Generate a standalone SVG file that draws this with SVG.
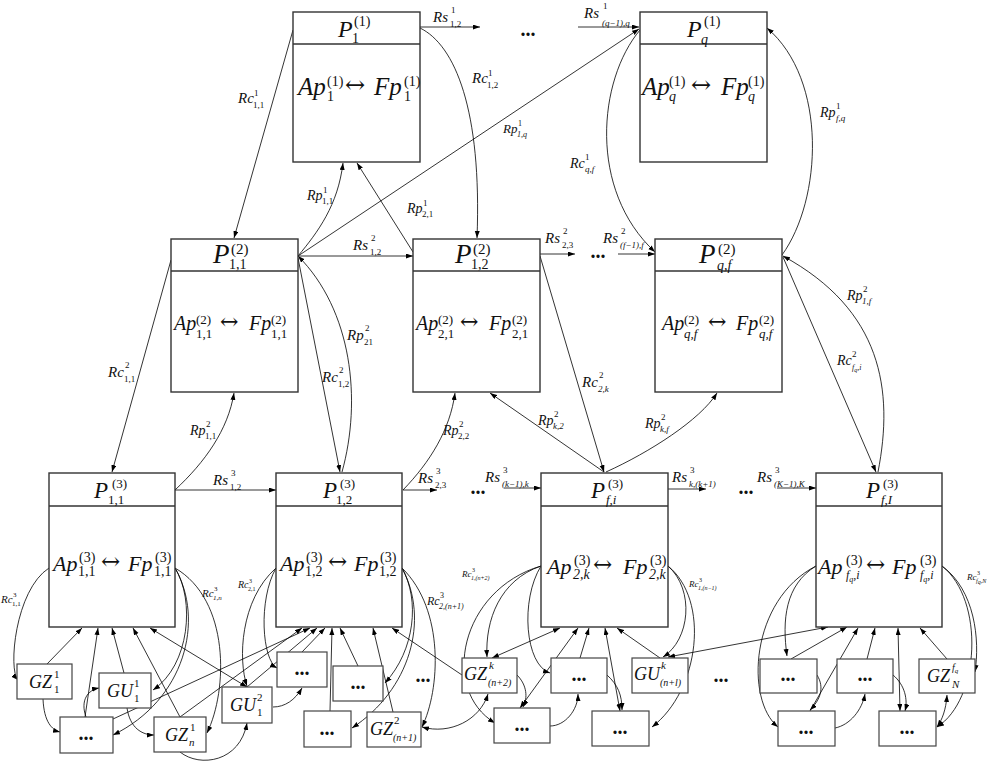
<svg xmlns="http://www.w3.org/2000/svg" width="993" height="763" viewBox="0 0 993 763">
<defs>
<marker id="ah" markerUnits="userSpaceOnUse" markerWidth="8" markerHeight="6" refX="7" refY="2.5" orient="auto-start-reverse"><path d="M0,0 L7,2.5 L0,5 z" fill="#000"/></marker>
<style>
.box{fill:#fff;stroke:#333;stroke-width:1.4}
.sb{fill:#fff;stroke:#444;stroke-width:1.2}
.dv{stroke:#333;stroke-width:1.4}
.c{fill:none;stroke:#000;stroke-width:0.8;marker-end:url(#ah)}
.b{marker-start:url(#ah)}
.i{font-family:"Liberation Serif","Times New Roman",serif;font-style:italic;fill:#111}
.u{font-style:normal}
.d{font-family:"Liberation Serif",serif;font-weight:bold;fill:#111;text-anchor:middle}
.ar{font-family:"DejaVu Serif","Liberation Serif",serif;font-style:normal}
</style>
</defs>
<rect width="993" height="763" fill="#fff"/>

<g id="connectors">
<path class="c" d="M420,27 L480,27"/>
<path class="c" d="M578,27 L639,27"/>
<path class="c" d="M293,30 L234,238"/>
<path class="c" d="M420,28 C455,45 482,110 477,238"/>
<path class="c" d="M298,256 C318,232 338,205 343,163"/>
<path class="c" d="M298,256 L639,29"/>
<path class="c" d="M413,252 L357,163"/>
<path class="c" d="M640,30 C598,80 588,190 655,252"/>
<path class="c" d="M782,255 C822,200 828,80 767,28"/>
<path class="c" d="M298,256 L413,256"/>
<path class="c" d="M540,254 L575,254"/>
<path class="c" d="M618,254 L655,254"/>
<path class="c" d="M171,260 L112,472"/>
<path class="c" d="M298,258 L340,472"/>
<path class="c" d="M342,472 C362,400 352,310 298,256"/>
<path class="c" d="M175,490 C205,462 228,430 234,393"/>
<path class="c" d="M403,490 C430,462 450,430 455,393"/>
<path class="c" d="M540,256 L604,472"/>
<path class="c" d="M604,472 L490,393"/>
<path class="c" d="M606,472 C650,452 700,420 717,393"/>
<path class="c" d="M878,472 C894,390 882,310 783,256"/>
<path class="c" d="M783,257 L876,472"/>
<path class="c" d="M175,490 L276,490"/>
<path class="c" d="M403,490 L437,490"/>
<path class="c" d="M504,488 L541,488"/>
<path class="c" d="M668,489 L706,489"/>
<path class="c" d="M777,488 L816,488"/>
<path class="c" d="M49,568 C15,590 8,670 18,680"/>
<path class="c" d="M47,664 L82,628"/>
<path class="c" d="M43,699 C44,722 52,730 60,732"/>
<path class="c" d="M85,717 L98,628"/>
<path class="c" d="M86,717 C80,700 88,690 99,688"/>
<path class="c" d="M124,673 L112,628"/>
<path class="c" d="M127,708 C130,728 142,735 154,735"/>
<path class="c" d="M180,717 L133,628"/>
<path class="c b" d="M150,628 L247,687"/>
<path class="c" d="M175,568 C195,600 190,665 153,690"/>
<path class="c" d="M175,568 C205,620 185,700 113,735"/>
<path class="c" d="M175,568 C230,600 228,690 207,733"/>
<path class="c" d="M180,752 C200,768 240,762 247,723"/>
<path class="c" d="M180,717 L302,628"/>
<path class="c" d="M113,719 L310,628"/>
<path class="c" d="M247,687 L317,628"/>
<path class="c" d="M276,568 C240,600 238,660 247,686"/>
<path class="c" d="M276,568 C258,600 262,660 277,668"/>
<path class="c" d="M273,707 C285,707 295,700 302,688"/>
<path class="c" d="M302,652 L325,628"/>
<path class="c" d="M330,711 L332,628"/>
<path class="c" d="M358,666 L340,628"/>
<path class="c" d="M393,712 L373,628"/>
<path class="c" d="M462,675 L392,628"/>
<path class="c" d="M402,568 C420,600 415,650 385,683"/>
<path class="c" d="M402,568 C430,620 410,690 352,728"/>
<path class="c" d="M402,568 C445,610 440,690 422,727"/>
<path class="c b" d="M422,727 C450,735 480,720 488,694"/>
<path class="c" d="M541,566 C460,590 440,690 495,723"/>
<path class="c" d="M541,566 C500,580 485,620 487,657"/>
<path class="c" d="M541,566 C520,600 525,665 550,673"/>
<path class="c b" d="M492,658 L560,628"/>
<path class="c" d="M517,675 C527,685 528,698 523,707"/>
<path class="c b" d="M520,708 L578,628"/>
<path class="c" d="M550,726 C565,726 578,710 578,694"/>
<path class="c" d="M580,658 L589,628"/>
<path class="c b" d="M620,711 L605,628"/>
<path class="c" d="M607,675 C618,685 622,695 622,710"/>
<path class="c" d="M660,658 L617,628"/>
<path class="c" d="M668,566 C695,590 690,640 663,657"/>
<path class="c" d="M668,566 C710,600 700,690 652,727"/>
<path class="c b" d="M668,657 L828,627"/>
<path class="c" d="M816,566 C785,585 782,620 787,656"/>
<path class="c" d="M816,566 C750,600 745,700 778,727"/>
<path class="c" d="M791,659 L847,627"/>
<path class="c" d="M817,675 C825,688 820,700 810,710"/>
<path class="c" d="M810,711 L858,628"/>
<path class="c" d="M835,728 C850,725 862,710 865,694"/>
<path class="c" d="M867,659 L875,628"/>
<path class="c" d="M893,675 C905,685 908,700 905,711"/>
<path class="c b" d="M900,711 L898,628"/>
<path class="c" d="M947,659 L920,628"/>
<path class="c" d="M942,566 C975,590 980,640 975,672"/>
<path class="c" d="M942,566 C985,600 980,700 937,727"/>
<path class="c b" d="M947,695 C946,710 942,720 937,727"/>
</g>

<g id="labels">
<text class="i" font-size="15" x="433" y="22">Rs<tspan class="u" font-size="9" x="451" y="13">1</tspan><tspan class="u" font-size="9" x="450" y="27">1,2</tspan></text>
<text class="i" font-size="15" x="584" y="18">Rs<tspan class="u" font-size="9" x="603" y="9">1</tspan><tspan font-size="9" x="602" y="26">(q−1),q</tspan></text>
<text class="i" font-size="15" x="238" y="103">Rc<tspan class="u" font-size="9" x="254" y="96">1</tspan><tspan class="u" font-size="9" x="253" y="108">1,1</tspan></text>
<text class="i" font-size="15" x="472" y="83">Rc<tspan class="u" font-size="9" x="488" y="76">1</tspan><tspan class="u" font-size="9" x="487" y="88">1,2</tspan></text>
<text class="i" font-size="13" x="503" y="133">Rp<tspan class="u" font-size="8" x="518" y="126">1</tspan><tspan font-size="8" x="517" y="137">1,q</tspan></text>
<text class="i" font-size="14" x="307" y="200">Rp<tspan class="u" font-size="9" x="323" y="193">1</tspan><tspan class="u" font-size="9" x="322" y="204">1,1</tspan></text>
<text class="i" font-size="14" x="407" y="213">Rp<tspan class="u" font-size="9" x="423" y="206">1</tspan><tspan class="u" font-size="9" x="422" y="217">2,1</tspan></text>
<text class="i" font-size="14" x="570" y="168">Rc<tspan class="u" font-size="9" x="585" y="160">1</tspan><tspan font-size="9" x="585" y="172">q,f</tspan></text>
<text class="i" font-size="14" x="820" y="117">Rp<tspan class="u" font-size="9" x="836" y="109">1</tspan><tspan font-size="9" x="836" y="121">f,q</tspan></text>

<text class="i" font-size="15" x="353" y="250">Rs<tspan class="u" font-size="9" x="371" y="241">2</tspan><tspan class="u" font-size="9" x="370" y="255">1,2</tspan></text>
<text class="i" font-size="15" x="347" y="340">Rp<tspan class="u" font-size="9" x="365" y="331">2</tspan><tspan class="u" font-size="9" x="364" y="345">21</tspan></text>
<text class="i" font-size="15" x="322" y="382">Rc<tspan class="u" font-size="9" x="339" y="373">2</tspan><tspan class="u" font-size="9" x="338" y="387">1,2</tspan></text>
<text class="i" font-size="15" x="108" y="377">Rc<tspan class="u" font-size="9" x="125" y="368">2</tspan><tspan class="u" font-size="9" x="124" y="382">1,1</tspan></text>
<text class="i" font-size="14" x="190" y="435">Rp<tspan class="u" font-size="9" x="206" y="427">2</tspan><tspan class="u" font-size="9" x="205" y="439">1,1</tspan></text>
<text class="i" font-size="14" x="443" y="435">Rp<tspan class="u" font-size="9" x="459" y="427">2</tspan><tspan class="u" font-size="9" x="458" y="439">2,2</tspan></text>
<text class="i" font-size="15" x="545" y="243">Rs<tspan class="u" font-size="9" x="563" y="234">2</tspan><tspan class="u" font-size="9" x="562" y="248">2,3</tspan></text>
<text class="i" font-size="15" x="603" y="243">Rs<tspan class="u" font-size="9" x="621" y="234">2</tspan><tspan font-size="9" x="620" y="248">(f−1),f</tspan></text>
<text class="i" font-size="15" x="582" y="387">Rc<tspan class="u" font-size="9" x="599" y="378">2</tspan><tspan font-size="9" x="598" y="392">2,k</tspan></text>
<text class="i" font-size="14" x="538" y="425">Rp<tspan class="u" font-size="9" x="554" y="417">2</tspan><tspan font-size="9" x="553" y="429">k,2</tspan></text>
<text class="i" font-size="14" x="645" y="428">Rp<tspan class="u" font-size="9" x="661" y="420">2</tspan><tspan font-size="9" x="660" y="432">k,f</tspan></text>
<text class="i" font-size="14" x="847" y="300">Rp<tspan class="u" font-size="9" x="863" y="292">2</tspan><tspan font-size="9" x="862" y="304">1,f</tspan></text>
<text class="i" font-size="14" x="837" y="365">Rc<tspan class="u" font-size="9" x="852" y="357">2</tspan><tspan font-size="8" x="852" y="370">f<tspan font-size="6" dy="2">q</tspan><tspan dy="-2">,i</tspan></tspan></text>

<text class="i" font-size="15" x="213" y="485">Rs<tspan class="u" font-size="9" x="231" y="476">3</tspan><tspan class="u" font-size="9" x="230" y="490">1,2</tspan></text>
<text class="i" font-size="15" x="418" y="483">Rs<tspan class="u" font-size="9" x="436" y="474">3</tspan><tspan class="u" font-size="9" x="435" y="488">2,3</tspan></text>
<text class="i" font-size="15" x="485" y="482">Rs<tspan class="u" font-size="9" x="503" y="473">3</tspan><tspan font-size="9" x="502" y="487">(k−1),k</tspan></text>
<text class="i" font-size="15" x="672" y="482">Rs<tspan class="u" font-size="9" x="690" y="473">3</tspan><tspan font-size="9" x="689" y="487">k,(k+1)</tspan></text>
<text class="i" font-size="15" x="757" y="482">Rs<tspan class="u" font-size="9" x="775" y="473">3</tspan><tspan font-size="9" x="774" y="487">(K−1),K</tspan></text>
<text class="i" font-size="11" x="1" y="603">Rc<tspan class="u" font-size="7" x="13" y="597">3</tspan><tspan class="u" font-size="7" x="12" y="606">1,1</tspan></text>
<text class="i" font-size="11" x="202" y="597">Rc<tspan class="u" font-size="7" x="214" y="591">3</tspan><tspan font-size="7" x="213" y="600">1,n</tspan></text>
<text class="i" font-size="10" x="238" y="588">Rc<tspan class="u" font-size="6" x="249" y="583">3</tspan><tspan class="u" font-size="6" x="248" y="591">2,1</tspan></text>
<text class="i" font-size="12" x="427" y="605">Rc<tspan class="u" font-size="8" x="440" y="598">3</tspan><tspan font-size="8" x="439" y="609">2,(n+1)</tspan></text>
<text class="i" font-size="9" x="462" y="577">Rc<tspan class="u" font-size="6" x="472" y="572">3</tspan><tspan font-size="6" x="471" y="580">1,(n+2)</tspan></text>
<text class="i" font-size="9" x="689" y="587">Rc<tspan class="u" font-size="6" x="699" y="582">3</tspan><tspan font-size="6" x="698" y="590">1,(n−1)</tspan></text>
<text class="i" font-size="9" x="967" y="580">Rc<tspan class="u" font-size="6" x="977" y="575">3</tspan><tspan font-size="6" x="976" y="583">f<tspan dy="1">q</tspan><tspan dy="-1">,N</tspan></tspan></text>

<text class="d" font-size="20" x="528" y="36">...</text>
<text class="d" font-size="20" x="598" y="258">...</text>
<text class="d" font-size="20" x="478" y="494">...</text>
<text class="d" font-size="20" x="746" y="494">...</text>
<text class="d" font-size="20" x="423" y="682">...</text>
<text class="d" font-size="20" x="721" y="682">...</text>
</g>

<g id="P1_1">
<rect class="box" x="293" y="12" width="127" height="150"/>
<line class="dv" x1="293" y1="44" x2="420" y2="44"/>
<text class="i" font-size="24" x="338" y="37">P<tspan class="u" font-size="14" x="354" y="26">(1)</tspan><tspan class="u" font-size="14" x="352" y="43">1</tspan></text>
<text class="i" font-size="25" x="298" y="95">Ap<tspan class="u" font-size="14" x="327" y="86">(1)</tspan><tspan class="u" font-size="14" x="327" y="101">1</tspan><tspan class="ar" font-size="24" x="345" y="93">↔</tspan><tspan x="374" y="95">Fp</tspan><tspan class="u" font-size="14" x="404" y="86">(1)</tspan><tspan class="u" font-size="14" x="404" y="101">1</tspan></text>
</g>

<g id="Pq_1">
<rect class="box" x="640" y="12" width="127" height="150"/>
<line class="dv" x1="640" y1="44" x2="767" y2="44"/>
<text class="i" font-size="24" x="687" y="37">P<tspan class="u" font-size="14" x="704" y="26">(1)</tspan><tspan font-size="14" x="701" y="44">q</tspan></text>
<text class="i" font-size="25" x="642" y="95">Ap<tspan class="u" font-size="14" x="669" y="86">(1)</tspan><tspan font-size="14" x="669" y="101">q</tspan><tspan class="ar" font-size="24" x="691" y="93">↔</tspan><tspan x="721" y="95">Fp</tspan><tspan class="u" font-size="14" x="748" y="86">(1)</tspan><tspan font-size="14" x="748" y="101">q</tspan></text>
</g>

<g id="P11_2">
<rect class="box" x="171" y="239" width="127" height="153"/>
<line class="dv" x1="171" y1="271" x2="298" y2="271"/>
<text class="i" font-size="27" x="213" y="263">P<tspan class="u" font-size="15" x="231" y="254">(2)</tspan><tspan class="u" font-size="14" x="229" y="269">1,1</tspan></text>
<text class="i" font-size="20" x="174" y="330">Ap<tspan class="u" font-size="13" x="196" y="324">(2)</tspan><tspan class="u" font-size="13" x="196" y="338">1,1</tspan><tspan class="ar" font-size="22" x="220" y="329">↔</tspan><tspan x="249" y="330">Fp</tspan><tspan class="u" font-size="13" x="271" y="324">(2)</tspan><tspan class="u" font-size="13" x="271" y="338">1,1</tspan></text>
</g>

<g id="P12_2">
<rect class="box" x="413" y="239" width="127" height="153"/>
<line class="dv" x1="413" y1="271" x2="540" y2="271"/>
<text class="i" font-size="27" x="455" y="263">P<tspan class="u" font-size="15" x="473" y="254">(2)</tspan><tspan class="u" font-size="14" x="471" y="269">1,2</tspan></text>
<text class="i" font-size="20" x="416" y="330">Ap<tspan class="u" font-size="13" x="438" y="324">(2)</tspan><tspan class="u" font-size="13" x="438" y="338">2,1</tspan><tspan class="ar" font-size="22" x="460" y="329">↔</tspan><tspan x="489" y="330">Fp</tspan><tspan class="u" font-size="13" x="512" y="324">(2)</tspan><tspan class="u" font-size="13" x="512" y="338">2,1</tspan></text>
</g>

<g id="Pqf_2">
<rect class="box" x="655" y="239" width="127" height="153"/>
<line class="dv" x1="655" y1="271" x2="782" y2="271"/>
<text class="i" font-size="27" x="699" y="263">P<tspan class="u" font-size="15" x="718" y="254">(2)</tspan><tspan font-size="14" x="717" y="270">q,f</tspan></text>
<text class="i" font-size="20" x="662" y="330">Ap<tspan class="u" font-size="13" x="684" y="324">(2)</tspan><tspan font-size="13" x="684" y="338">q,f</tspan><tspan class="ar" font-size="22" x="708" y="329">↔</tspan><tspan x="736" y="330">Fp</tspan><tspan class="u" font-size="13" x="759" y="324">(2)</tspan><tspan font-size="13" x="759" y="338">q,f</tspan></text>
</g>

<g id="P11_3">
<rect class="box" x="49" y="473" width="126" height="154"/>
<line class="dv" x1="49" y1="506" x2="175" y2="506"/>
<text class="i" font-size="23" x="94" y="498">P<tspan class="u" font-size="13" x="112" y="488">(3)</tspan><tspan class="u" font-size="13" x="108" y="504">1,1</tspan></text>
<text class="i" font-size="22" x="53" y="571">Ap<tspan class="u" font-size="14" x="79" y="562">(3)</tspan><tspan class="u" font-size="14" x="78" y="576">1,1</tspan><tspan class="ar" font-size="23" x="101" y="569">↔</tspan><tspan x="128" y="571">Fp</tspan><tspan class="u" font-size="14" x="155" y="562">(3)</tspan><tspan class="u" font-size="14" x="154" y="576">1,1</tspan></text>
</g>

<g id="P12_3">
<rect class="box" x="276" y="473" width="126" height="154"/>
<line class="dv" x1="276" y1="506" x2="402" y2="506"/>
<text class="i" font-size="23" x="323" y="498">P<tspan class="u" font-size="13" x="340" y="488">(3)</tspan><tspan class="u" font-size="13" x="336" y="504">1,2</tspan></text>
<text class="i" font-size="22" x="280" y="571">Ap<tspan class="u" font-size="14" x="306" y="562">(3)</tspan><tspan class="u" font-size="14" x="305" y="576">1,2</tspan><tspan class="ar" font-size="23" x="328" y="569">↔</tspan><tspan x="354" y="571">Fp</tspan><tspan class="u" font-size="14" x="380" y="562">(3)</tspan><tspan class="u" font-size="14" x="379" y="576">1,2</tspan></text>
</g>

<g id="Pfi_3">
<rect class="box" x="541" y="473" width="127" height="154"/>
<line class="dv" x1="541" y1="506" x2="668" y2="506"/>
<text class="i" font-size="23" x="591" y="498">P<tspan class="u" font-size="13" x="608" y="488">(3)</tspan><tspan font-size="13" x="606" y="504">f,i</tspan></text>
<text class="i" font-size="22" x="547" y="574">Ap<tspan class="u" font-size="14" x="574" y="565">(3)</tspan><tspan font-size="14" x="573" y="579">2,k</tspan><tspan class="ar" font-size="23" x="593" y="572">↔</tspan><tspan x="623" y="574">Fp</tspan><tspan class="u" font-size="14" x="650" y="565">(3)</tspan><tspan font-size="14" x="649" y="579">2,k</tspan></text>
</g>

<g id="PfI_3">
<rect class="box" x="816" y="473" width="126" height="154"/>
<line class="dv" x1="816" y1="506" x2="942" y2="506"/>
<text class="i" font-size="23" x="866" y="498">P<tspan class="u" font-size="13" x="883" y="488">(3)</tspan><tspan font-size="13" x="881" y="504">f,I</tspan></text>
<text class="i" font-size="22" x="818" y="574">Ap<tspan class="u" font-size="14" x="846" y="565">(3)</tspan><tspan font-size="12" x="846" y="579">f<tspan font-size="8" dy="3">q</tspan><tspan dy="-3">,i</tspan></tspan><tspan class="ar" font-size="23" x="866" y="572">↔</tspan><tspan x="892" y="574">Fp</tspan><tspan class="u" font-size="14" x="920" y="565">(3)</tspan><tspan font-size="12" x="920" y="579">f<tspan font-size="8" dy="3">q</tspan><tspan dy="-3">,i</tspan></tspan></text>
</g>

<g id="GZ1_1"><rect class="sb" x="17" y="664" width="55" height="35"/><text class="i" font-size="18" x="29" y="688">GZ<tspan class="u" font-size="11" x="54" y="678">1</tspan><tspan class="u" font-size="11" x="54" y="693">1</tspan></text></g>
<g id="GU1_1"><rect class="sb" x="99" y="673" width="52" height="35"/><text class="i" font-size="18" x="107" y="697">GU<tspan class="u" font-size="11" x="134" y="687">1</tspan><tspan class="u" font-size="11" x="134" y="702">1</tspan></text></g>
<g id="dotsA"><rect class="sb" x="60" y="717" width="53" height="36"/><text class="d" font-size="20" x="86" y="740">...</text></g>
<g id="GZn_1"><rect class="sb" x="154" y="717" width="52" height="35"/><text class="i" font-size="18" x="165" y="741">GZ<tspan class="u" font-size="11" x="190" y="731">1</tspan><tspan font-size="11" x="189" y="746">n</tspan></text></g>
<g id="GU1_2"><rect class="sb" x="222" y="687" width="50" height="36"/><text class="i" font-size="18" x="230" y="711">GU<tspan class="u" font-size="11" x="257" y="701">2</tspan><tspan class="u" font-size="11" x="257" y="716">1</tspan></text></g>
<g id="dotsB"><rect class="sb" x="277" y="652" width="50" height="35"/><text class="d" font-size="20" x="302" y="675">...</text></g>
<g id="dotsC"><rect class="sb" x="333" y="666" width="50" height="35"/><text class="d" font-size="20" x="358" y="689">...</text></g>
<g id="dotsD"><rect class="sb" x="304" y="711" width="47" height="36"/><text class="d" font-size="20" x="327" y="735">...</text></g>
<g id="GZn1_2"><rect class="sb" x="367" y="712" width="54" height="35"/><text class="i" font-size="18" x="370" y="735">GZ<tspan class="u" font-size="11" x="394" y="724">2</tspan><tspan font-size="10" x="393" y="741">(n+1)</tspan></text></g>
<g id="GZn2_k"><rect class="sb" x="462" y="658" width="55" height="35"/><text class="i" font-size="18" x="464" y="680">GZ<tspan font-size="11" x="489" y="669">k</tspan><tspan font-size="10" x="488" y="686">(n+2)</tspan></text></g>
<g id="dotsE"><rect class="sb" x="551" y="658" width="56" height="35"/><text class="d" font-size="20" x="579" y="681">...</text></g>
<g id="GUnl_k"><rect class="sb" x="632" y="658" width="56" height="35"/><text class="i" font-size="18" x="634" y="680">GU<tspan font-size="11" x="661" y="669">k</tspan><tspan font-size="10" x="660" y="686">(n+l)</tspan></text></g>
<g id="dotsF"><rect class="sb" x="494" y="708" width="56" height="35"/><text class="d" font-size="20" x="522" y="731">...</text></g>
<g id="dotsG"><rect class="sb" x="592" y="711" width="57" height="35"/><text class="d" font-size="20" x="620" y="734">...</text></g>
<g id="dotsH"><rect class="sb" x="760" y="659" width="57" height="34"/><text class="d" font-size="20" x="788" y="681">...</text></g>
<g id="dotsI"><rect class="sb" x="837" y="659" width="56" height="34"/><text class="d" font-size="20" x="865" y="681">...</text></g>
<g id="GZN_fq"><rect class="sb" x="919" y="659" width="56" height="34"/><text class="i" font-size="18" x="927" y="682">GZ<tspan font-size="10" x="952" y="671">f<tspan font-size="7" dy="2">q</tspan></tspan><tspan font-size="11" x="952" y="688">N</tspan></text></g>
<g id="dotsJ"><rect class="sb" x="778" y="711" width="57" height="35"/><text class="d" font-size="20" x="806" y="734">...</text></g>
<g id="dotsK"><rect class="sb" x="879" y="711" width="57" height="35"/><text class="d" font-size="20" x="907" y="734">...</text></g>
</svg>
